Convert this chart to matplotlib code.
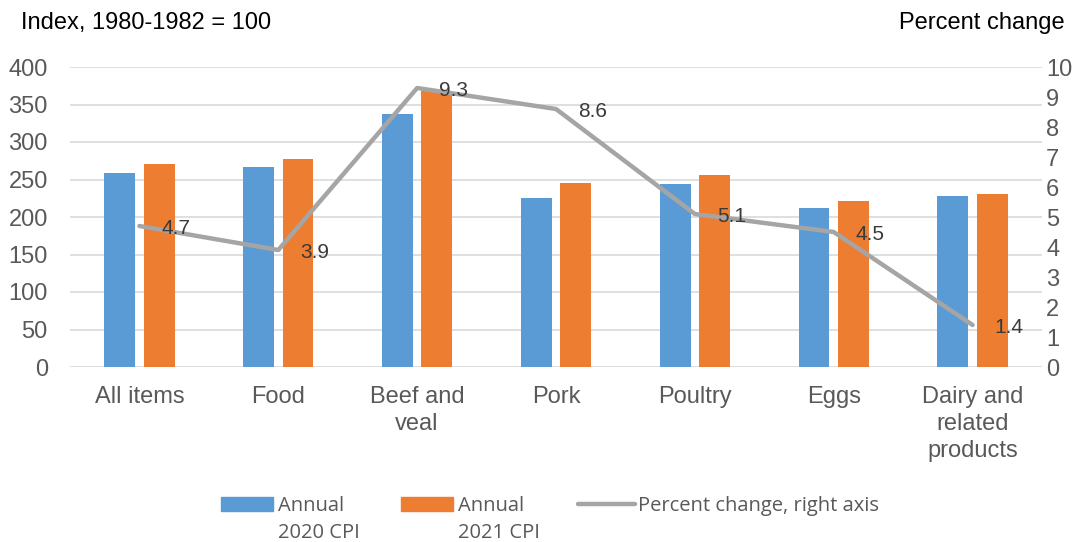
import matplotlib
matplotlib.use("Agg")
import matplotlib.pyplot as plt
import numpy as np
from matplotlib.patches import Rectangle
from matplotlib.lines import Line2D

# CPI by category, annual averages (index 1980-1982 = 100)
categories = ["All items", "Food", "Beef and\nveal", "Pork", "Poultry", "Eggs",
              "Dairy and\nrelated\nproducts"]
cpi_2020 = [258.8, 267.2, 337.0, 225.5, 244.0, 212.2, 228.0]
cpi_2021 = [271.0, 277.6, 368.3, 245.0, 256.4, 221.6, 231.2]
pct_change = [4.7, 3.9, 9.3, 8.6, 5.1, 4.5, 1.4]
left_ticks = list(range(0, 401, 50))
right_ticks = list(range(0, 11))

BLUE = "#5B9BD5"
ORANGE = "#ED7D31"
GRAY = "#A5A5A5"
TICK_COLOR = "#595959"

plt.rcParams['font.family'] = ['Liberation Sans', 'DejaVu Sans']

W, H = 1092, 542


def fx(px):
    return px / W


def fy(py):
    return 1 - py / H


fig = plt.figure(figsize=(W / 100, H / 100), dpi=100)
ax = fig.add_axes([fx(70), fy(367), (1042 - 70) / W, 300 / H])

x = np.arange(len(categories))
width = 0.223
offset = 0.142
ax.bar(x - offset, cpi_2020, width, color=BLUE, zorder=2)
ax.bar(x + offset, cpi_2021, width, color=ORANGE, zorder=2)

ax.set_xlim(-0.5, len(categories) - 0.5)
ax.set_ylim(0, 400)
ax.set_yticks(left_ticks)
ax.set_xticks(x, categories, linespacing=1.3)
ax.grid(axis='y', color='#D9D9D9', lw=1.2)
ax.set_axisbelow(True)
for s in ax.spines.values():
    s.set_visible(False)
ax.tick_params(axis='y', length=0, pad=16, labelsize=17, labelcolor=TICK_COLOR)
ax.tick_params(axis='x', length=0, pad=13.5, labelsize=17, labelcolor=TICK_COLOR)

ax2 = ax.twinx()
ax2.plot(x, pct_change, color=GRAY, lw=3.2, solid_joinstyle='round',
         solid_capstyle='round', zorder=3)
ax2.set_ylim(0, 10)
ax2.set_yticks(right_ticks)
for s in ax2.spines.values():
    s.set_visible(False)
ax2.tick_params(axis='y', length=0, pad=3, labelsize=17, labelcolor=TICK_COLOR)

for xi, v in zip(x, pct_change):
    ax2.annotate(f"{v}", (xi, v), xytext=(16, -1.5), textcoords='offset points',
                 ha='left', va='center', fontsize=15, color='#3a3a3a', zorder=4)

# axis titles
fig.text(fx(21), fy(29), "Index, 1980-1982 = 100", fontsize=17, va='baseline', ha='left')
fig.text(fx(1065), fy(29), "Percent change", fontsize=17, va='baseline', ha='right')

# legend
leg_font = dict(family=['Open Sans', 'DejaVu Sans'], fontsize=14.5, color=TICK_COLOR,
                va='baseline', ha='left')
for x0, color, year in [(221, BLUE, "2020"), (401, ORANGE, "2021")]:
    fig.add_artist(Rectangle((fx(x0), fy(511)), 52 / W, 14 / H,
                             transform=fig.transFigure, color=color))
    fig.text(fx(x0 + 57), fy(511), "Annual", **leg_font)
    fig.text(fx(x0 + 57), fy(538), f"{year} CPI", **leg_font)
fig.add_artist(Line2D([fx(578), fx(635)], [fy(504), fy(504)], transform=fig.transFigure,
                      color=GRAY, lw=3.2, solid_capstyle='round'))
fig.text(fx(638), fy(511), "Percent change, right axis", **leg_font)

fig.savefig("out.png", dpi=100)
